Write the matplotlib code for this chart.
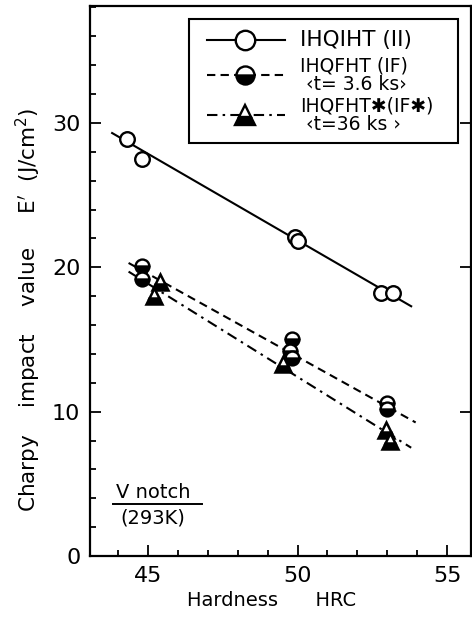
import matplotlib
matplotlib.use("Agg")
import matplotlib.pyplot as plt
from matplotlib.patches import Rectangle
from matplotlib.ticker import MultipleLocator

# IHQIHT (II)
ii_hrc = [44.3, 44.8, 49.9, 50.0, 52.8, 53.2]
ii_e = [28.9, 27.5, 22.1, 21.8, 18.2, 18.2]
ii_fit_x = [43.8, 53.8]
ii_fit_y = [29.3, 17.3]

# IHQFHT (IF), t = 3.6 ks
if_hrc = [44.8, 44.8, 49.8, 49.75, 49.8, 53.0, 53.0]
if_e = [20.1, 19.2, 15.0, 14.2, 13.7, 10.6, 10.2]
if_fit_x = [44.35, 53.95]
if_fit_y = [20.3, 9.25]

# IHQFHT* (IF*), t = 36 ks
ifs_hrc = [45.4, 45.2, 49.5, 52.95, 53.1]
ifs_e = [19.0, 18.0, 13.3, 8.7, 8.0]
ifs_fit_x = [44.35, 53.8]
ifs_fit_y = [19.7, 7.5]

plt.rcParams["font.family"] = ["DejaVu Sans"]

fig = plt.figure(figsize=(4.72, 6.28), dpi=100)
ax = fig.add_axes([90 / 472, 1 - 556 / 628, 381 / 472, 550 / 628])

lw = 1.5
dash = (0, (4, 2.5))
dashdot = (0, (5, 2.5, 1.2, 2.5))

ax.plot(ii_fit_x, ii_fit_y, color="black", lw=lw)
ax.plot(if_fit_x, if_fit_y, color="black", lw=lw, linestyle=dash)
ax.plot(ifs_fit_x, ifs_fit_y, color="black", lw=lw, linestyle=dashdot)

ax.plot(ii_hrc, ii_e, "o", ms=10.5, mfc="white", mec="black", mew=1.7, ls="none")
ax.plot(if_hrc, if_e, "o", ms=10, fillstyle="bottom", mfc="black",
        mfcalt="white", mec="black", mew=1.7, ls="none")
ax.plot(ifs_hrc, ifs_e, "^", ms=11.5, fillstyle="bottom", mfc="black",
        mfcalt="white", mec="black", mew=1.8, ls="none")

ax.set_xlim(43.06, 55.8)
ax.set_ylim(0, 38.1)
ax.xaxis.set_major_locator(MultipleLocator(5))
ax.xaxis.set_minor_locator(MultipleLocator(1))
ax.yaxis.set_major_locator(MultipleLocator(10))
ax.yaxis.set_minor_locator(MultipleLocator(2))
ax.tick_params(which="both", direction="in", width=1.3, labelsize=16, pad=7)
ax.tick_params(which="major", length=8)
ax.tick_params(which="minor", length=4)
ax.tick_params(axis="y", which="major", right=True)
for s in ax.spines.values():
    s.set_linewidth(1.6)

# legend box drawn by hand
T = ax.transAxes
ax.add_patch(Rectangle((0.26, 0.751), 0.706, 0.225, transform=T,
                       fill=False, lw=1.5, ec="black"))
rows = [
    (0.938, "-", "o", 14, dict(mfc="white"), "IHQIHT (II)", 15.5),
    (0.8745, dash, "o", 13, dict(fillstyle="bottom", mfc="black", mfcalt="white"),
     "IHQFHT (IF)\n \u2039t= 3.6 ks\u203a", 13.5),
    (0.802, dashdot, "^", 14, dict(fillstyle="bottom", mfc="black", mfcalt="white"),
     "IHQFHT\u2731(IF\u2731)\n \u2039t=36 ks \u203a", 13.5),
]
for y, ls, m, ms, kw, label, fs in rows:
    ax.plot([0.307, 0.512], [y, y], transform=T, color="black", lw=lw, ls=ls)
    ax.plot([0.407], [y], m, transform=T, ms=ms, mec="black", mew=1.7, **kw)
    ax.text(0.551, y, label, transform=T, fontsize=fs, va="center",
            linespacing=0.95)

# V notch note
ax.text(0.165, 0.115, "V notch", transform=T, fontsize=14, ha="center",
        va="center")
ax.plot([0.06, 0.295], [0.094, 0.094], transform=T, color="black", lw=1.4)
ax.text(0.165, 0.070, "(293K)", transform=T, fontsize=14, ha="center",
        va="center")

fig.text(28 / 472, 1 - 310 / 628, "Charpy    impact    value     E$'$  (J/cm$^2$)",
         rotation=90, fontsize=15.5, ha="center", va="center")
fig.text(272 / 472, 1 - 600 / 628, "Hardness      HRC", fontsize=14,
         ha="center", va="center")

fig.savefig("out.png", dpi=100)
